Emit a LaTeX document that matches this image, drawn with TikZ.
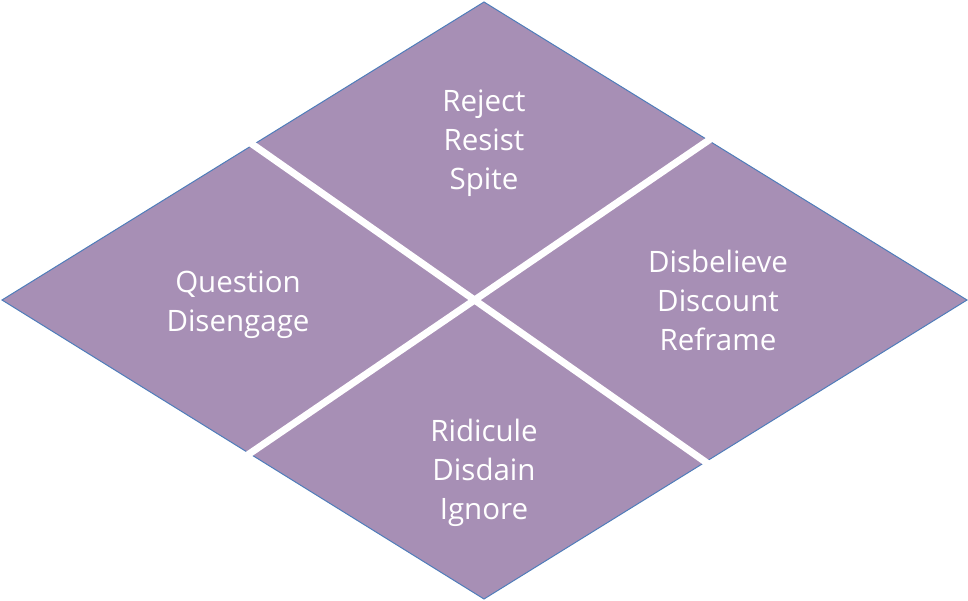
\documentclass[tikz,border=0pt]{standalone}
\usepackage{fontspec}
\setmainfont{Open Sans}
\definecolor{petal}{HTML}{A78FB5}
\definecolor{rim}{HTML}{4F7DBA}

\begin{document}
\begin{tikzpicture}[x=1pt,y=-1pt,
  word/.style={text=white,font=\fontsize{29.5}{39}\selectfont,align=center},
  gap/.style={draw=white,line width=7pt,shorten <=-4pt,shorten >=-4pt}]
\useasboundingbox (0,0) rectangle (968,600);
\coordinate (top) at (484,2);
\coordinate (right) at (967,300);
\coordinate (bottom) at (484,599);
\coordinate (left) at (2,300);
\coordinate (ul) at (252,144);
\coordinate (lr) at (707,463);
\coordinate (ur) at (709,140);
\coordinate (ll) at (249,454);

\filldraw[fill=petal,draw=rim,line width=1pt,line join=miter]
  (top) -- (right) -- (bottom) -- (left) -- cycle;
\draw[gap] (ul) -- (lr);
\draw[gap] (ur) -- (ll);

\node[word] (spite) at (484,143) {Reject\\Resist\\Spite};
\node[word] (question) at (238,305) {Question\\Disengage};
\node[word] (reframe) at (718,300) {Disbelieve\\Discount\\Reframe};
\node[word] (ignore) at (484,473) {Ridicule\\Disdain\\Ignore};
\end{tikzpicture}
\end{document}
